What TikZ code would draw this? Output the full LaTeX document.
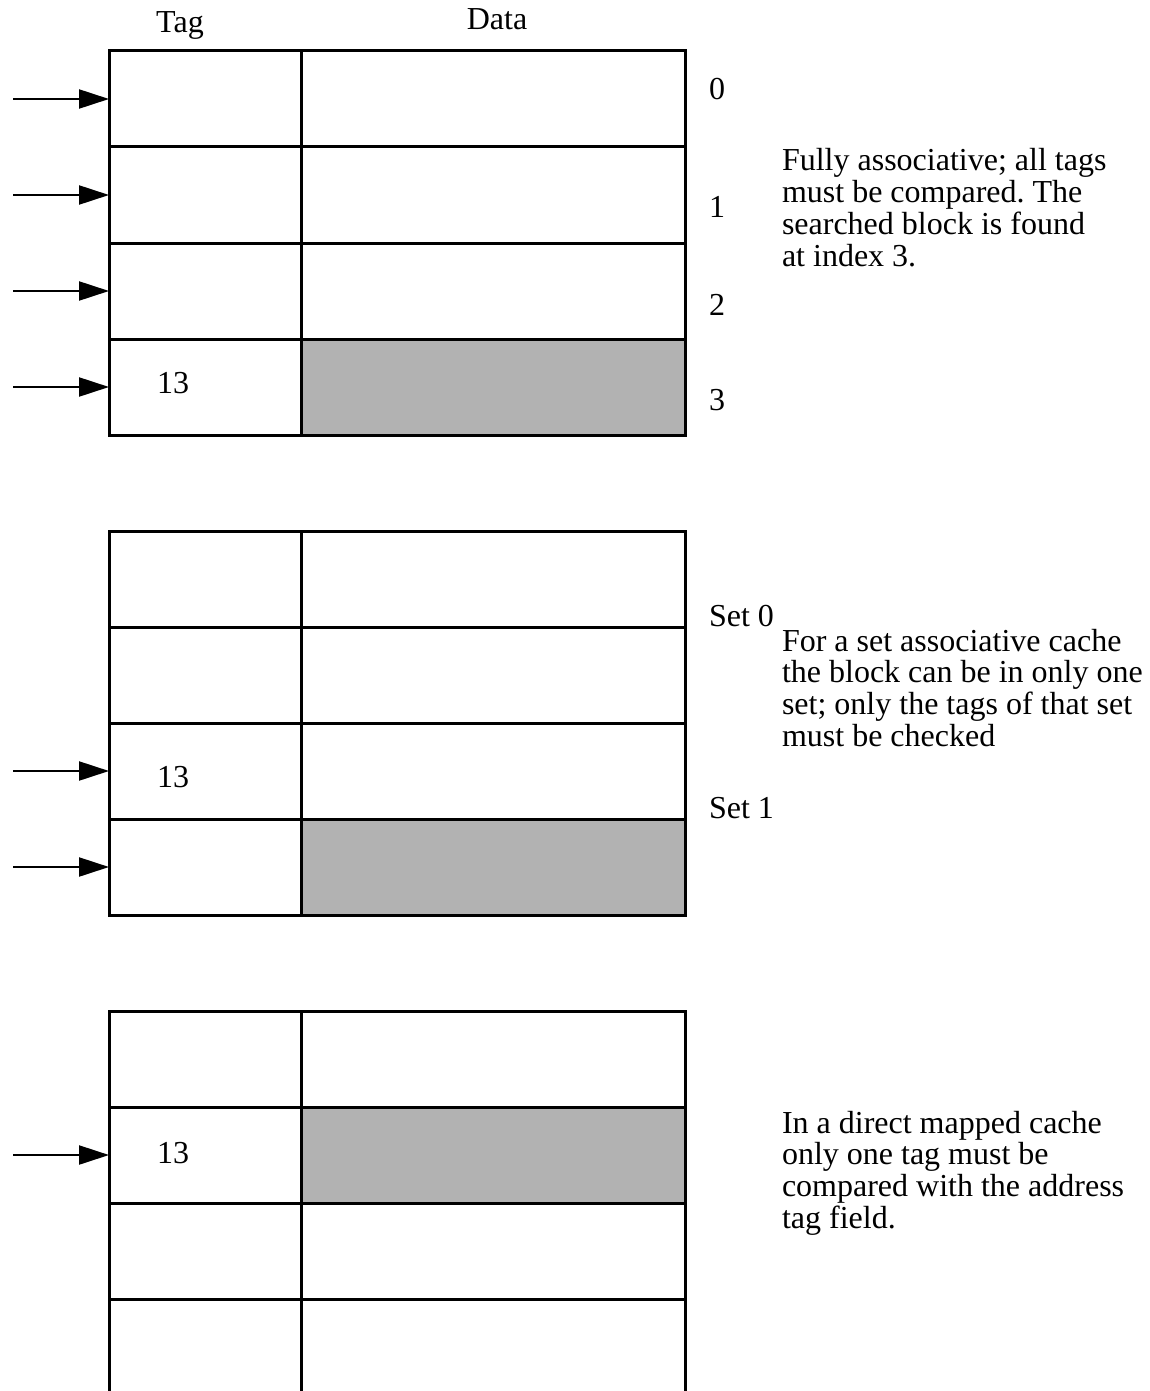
\documentclass[tikz,border=0pt]{standalone}
\usepackage{fontspec}
\setmainfont{Liberation Serif}
\usetikzlibrary{arrows.meta}
\newcommand{\lines}[1]{\begin{tabular}[t]{@{}l@{}}#1\end{tabular}}
\frenchspacing
\begin{document}
\begin{tikzpicture}[x=1pt,y=-1pt,
  cell/.style={draw, line width=3pt, outer sep=0pt, inner sep=0pt, minimum height=96pt, anchor=north west},
  tagcell/.style={cell, minimum width=192pt},
  datacell/.style={cell, minimum width=384pt},
  lbl/.style={font=\fontsize{32}{31.8}\selectfont, inner sep=0pt, outer sep=0pt},
  ptr/.style={line width=2.2pt, -{Triangle[length=30pt,width=19pt]}}]
\path[use as bounding box, clip] (0,0) rectangle (1150,1391);
\fill[white] (0,0) rectangle (1150,1391);
% tables
\foreach \t/\y/\h in {a/51/3,b/531/3,c/1011/1}{
  \foreach \i in {0,...,3}{
    \ifnum\i=\h\relax\def\cellfill{black!30}\else\def\cellfill{white}\fi
    \node[tagcell] (\t\i t) at (109,{\y+96*\i}) {};
    \node[datacell, fill=\cellfill] (\t\i d) at (301,{\y+96*\i}) {};
  }
}
% pointers
\foreach \n in {a0t,a1t,a2t,a3t,b2t,b3t,c1t}
  \draw[ptr] ([xshift=-96pt]\n.west) -- (\n.west);
% headings
\node[lbl, anchor=base] (taghead) at (180,33) {Tag};
\node[lbl, anchor=base] (datahead) at (497,30) {Data};
% tags
\node[lbl, anchor=base] (tagA) at (173,393) {13};
\node[lbl, anchor=base] (tagB) at (173,787) {13};
\node[lbl, anchor=base] (tagC) at (173,1163) {13};
% indices
\node[lbl, anchor=base west] (idx0) at (709,100) {0};
\node[lbl, anchor=base west] (idx1) at (709,218) {1};
\node[lbl, anchor=base west] (idx2) at (709,315) {2};
\node[lbl, anchor=base west] (idx3) at (709,410) {3};
\node[lbl, anchor=base west] (set0) at (709,626) {Set 0};
\node[lbl, anchor=base west] (set1) at (709,818) {Set 1};
% descriptions
\node[lbl, anchor=base west] (descA) at (782,171)
  {\lines{Fully associative; all tags\\must be compared. The\\searched block is found\\at index 3.}};
\node[lbl, anchor=base west] (descB) at (782,651)
  {\lines{For a set associative cache\\the block can be in only one\\set; only the tags of that set\\must be checked}};
\node[lbl, anchor=base west] (descC) at (782,1133)
  {\lines{In a direct mapped cache\\only one tag must be\\compared with the address\\tag field.}};
\end{tikzpicture}
\end{document}
